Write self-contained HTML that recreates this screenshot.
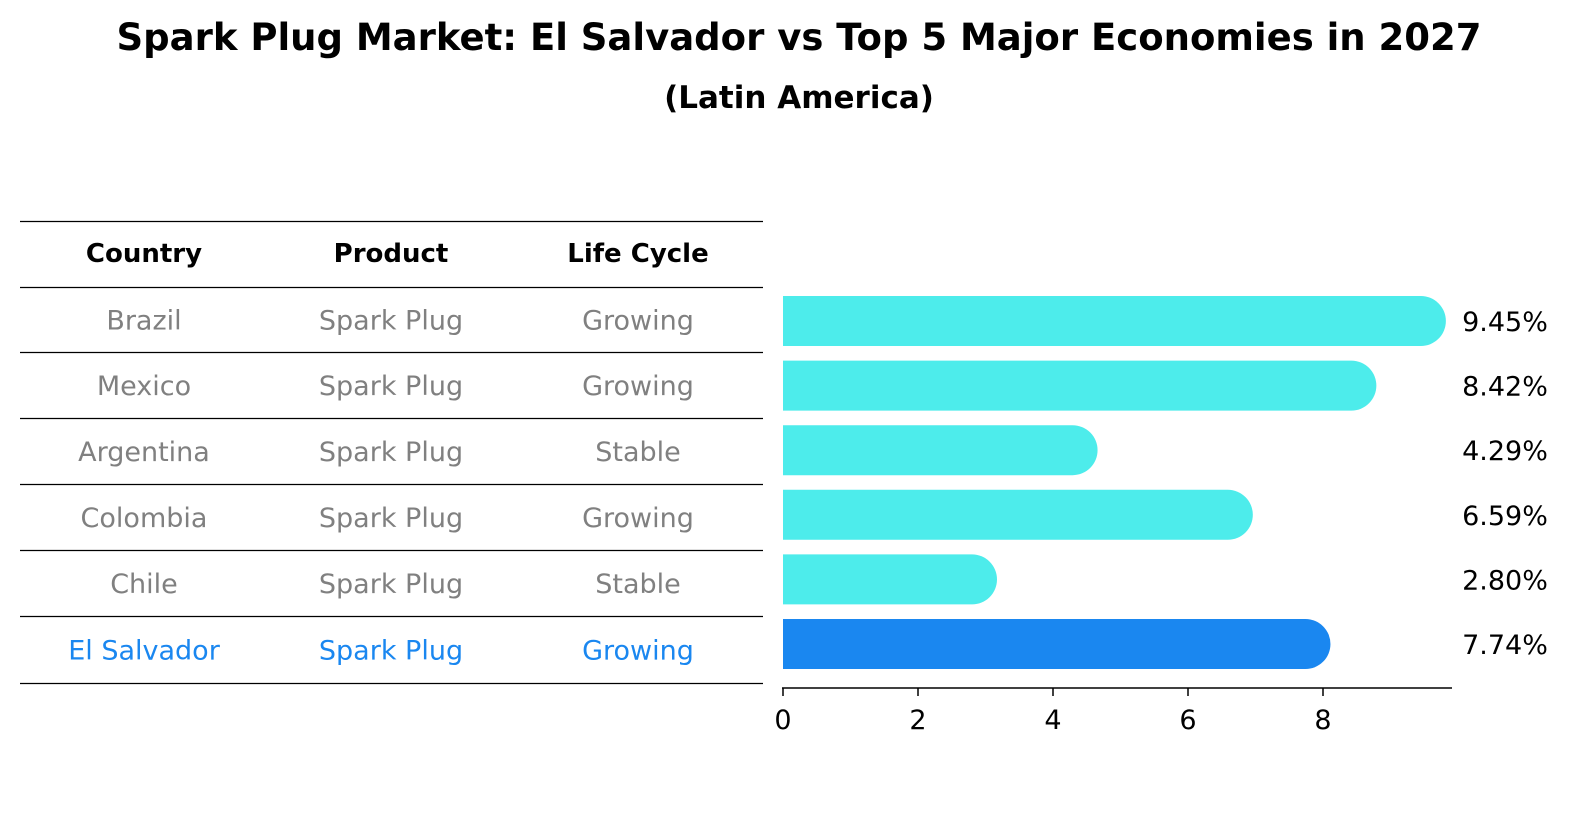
<!DOCTYPE html>
<html><head><meta charset="utf-8"><style>
body{margin:0;background:#fff;font-family:"Liberation Sans","DejaVu Sans",sans-serif;}
</style></head><body>
<svg width="1586" height="823" xmlns="http://www.w3.org/2000/svg" id="chart" font-family="DejaVu Sans, Liberation Sans, sans-serif">
<text x="799" y="50" text-anchor="middle" font-size="37" font-weight="bold">Spark Plug Market: El Salvador vs Top 5 Major Economies in 2027</text>
<text x="799" y="108" text-anchor="middle" font-size="31" font-weight="bold">(Latin America)</text>
<g id="table"></g>
<g id="bars"></g>
</svg>
<script>
const countries=["Brazil","Mexico","Argentina","Colombia","Chile","El Salvador"];
const products=["Spark Plug","Spark Plug","Spark Plug","Spark Plug","Spark Plug","Spark Plug"];
const lifeCycles=["Growing","Growing","Stable","Growing","Stable","Growing"];
const values=[9.45,8.42,4.29,6.59,2.80,7.74];
const tickLabels=[0,2,4,6,8];
const NS="http://www.w3.org/2000/svg";
function mk(t,a,p){const e=document.createElementNS(NS,t);for(const k in a)e.setAttribute(k,a[k]);p.appendChild(e);return e;}
const xs=v=>783+v*67.5;
const rowY=i=>321+i*64.6;
const tbl=document.getElementById('table');
const lines=[221,287,352,418,484,550,616,683];
lines.forEach(y=>{const l=mk('line',{x1:20,x2:763,y1:y+0.5,y2:y+0.5,stroke:'#000','stroke-width':1.2},tbl);

});
const colX=[144,391,638];
["Country","Product","Life Cycle"].forEach((h,j)=>{const t=mk('text',{x:colX[j],y:262,'text-anchor':'middle','font-size':26,'font-weight':'bold'},tbl);t.textContent=h;

});
countries.forEach((c,i)=>{const hl=i===countries.length-1;const y=(lines[i+1]+lines[i+2])/2+10;
[c,products[i],lifeCycles[i]].forEach((v,j)=>{const t=mk('text',{x:colX[j],y:y,'text-anchor':'middle','font-size':27,fill:hl?'#1a87f0':'#808080'},tbl);t.textContent=v;

});});
const g=document.getElementById('bars');
const h=50,r=25;
values.forEach((v,i)=>{const hl=i===values.length-1;const yc=rowY(i);const x1=xs(v);
const p=mk('path',{d:`M${xs(0)},${yc-h/2}H${x1}A${r},${r} 0 0 1 ${x1},${yc+h/2}H${xs(0)}Z`,fill:hl?'#1a87f0':'#4deceb'},g);


const t=mk('text',{x:1505,y:yc+10,'text-anchor':'middle','font-size':27},g);t.textContent=v.toFixed(2)+'%';

});
const ax=mk('line',{x1:782,x2:1452,y1:688,y2:688,stroke:'#000','stroke-width':1.5},g);


tickLabels.forEach(v=>{const tk=mk('line',{x1:xs(v),x2:xs(v),y1:688,y2:696,stroke:'#000','stroke-width':1.5},g);


const t=mk('text',{x:xs(v),y:729,'text-anchor':'middle','font-size':27},g);t.textContent=v;

});
</script>
</body></html>
